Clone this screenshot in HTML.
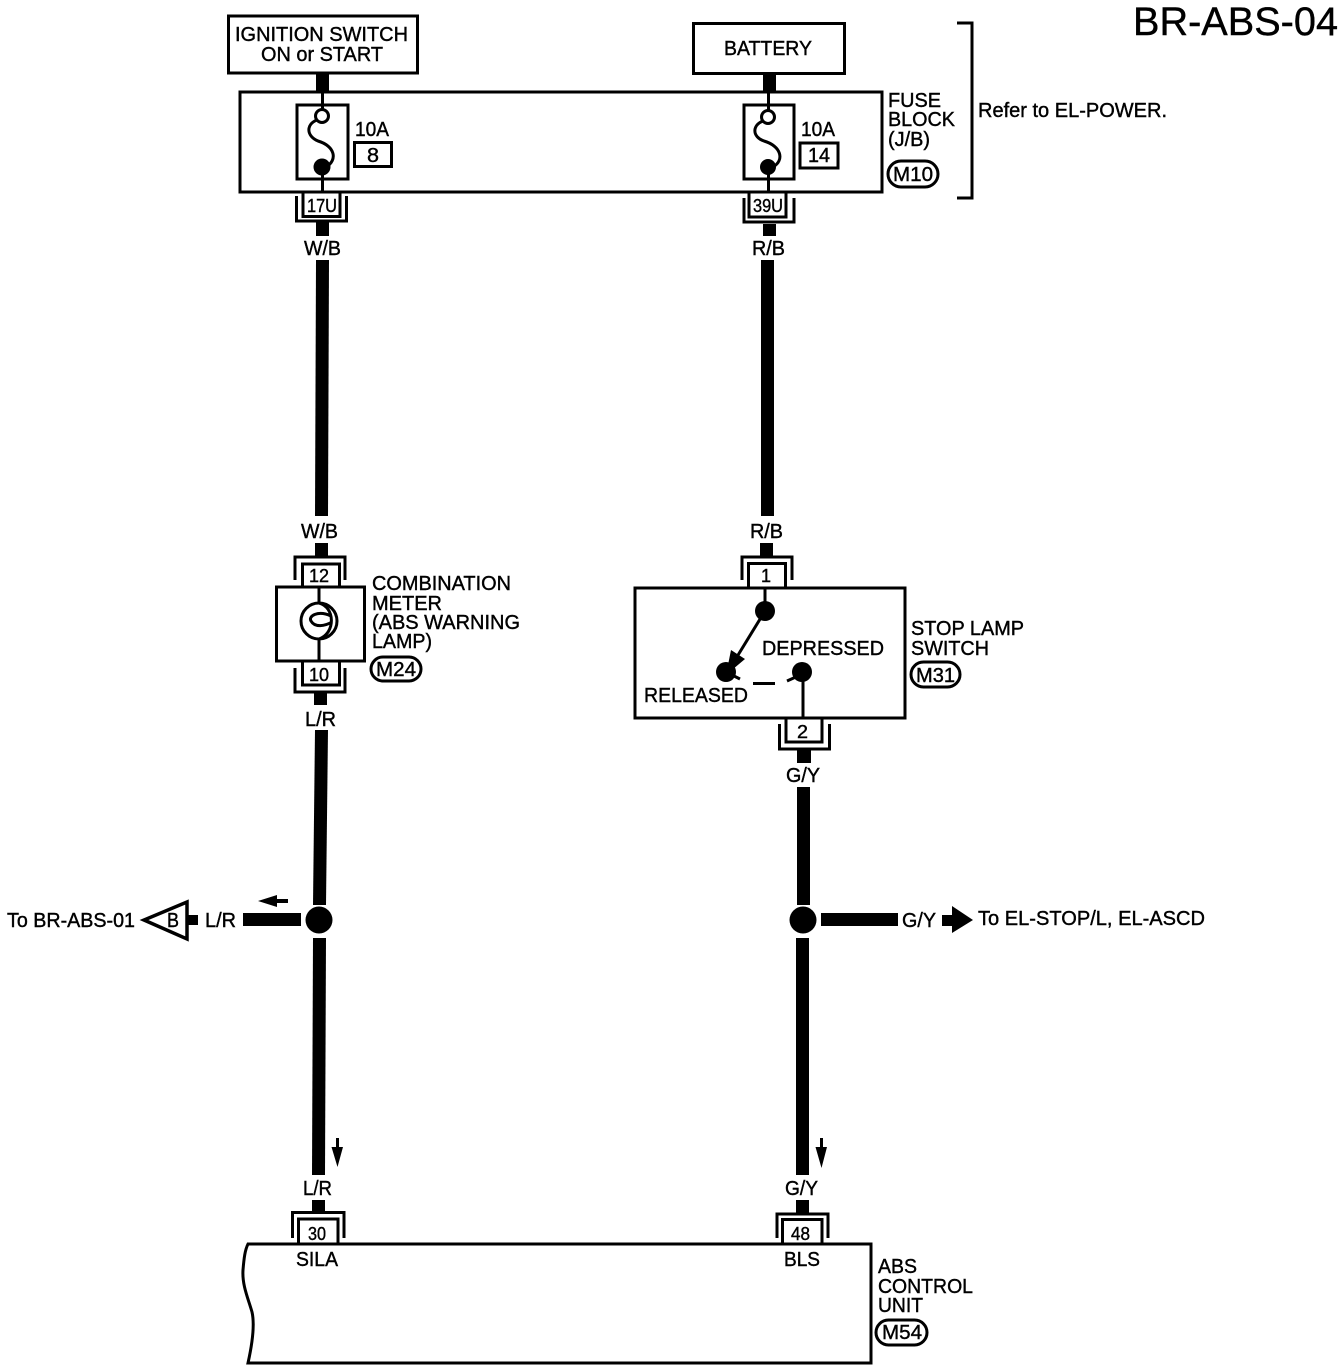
<!DOCTYPE html>
<html lang="en"><head><meta charset="utf-8"><title>BR-ABS-04</title>
<style>
html,body{margin:0;padding:0;background:#fff;width:1344px;height:1372px;overflow:hidden}
svg{display:block}
text{font-family:"Liberation Sans",Arial,sans-serif;font-size:20px;fill:#000;stroke:#000;stroke-width:.4}
.s{font-size:18px}
.n{fill:none;stroke:#000;stroke-width:3;stroke-linejoin:miter}
.t{fill:none;stroke:#000;stroke-width:3}
</style></head><body>
<svg width="1344" height="1372" viewBox="0 0 1344 1372" xmlns="http://www.w3.org/2000/svg">
<rect width="1344" height="1372" fill="#fff"/>

<text x="1133" y="35" style="font-size:39.5px;stroke-width:.4" textLength="205" lengthAdjust="spacingAndGlyphs">BR-ABS-04</text>

<!-- Top boxes -->
<rect class="n" x="228.500" y="16" width="189" height="57"/>
<text x="235" y="41" textLength="173" lengthAdjust="spacingAndGlyphs">IGNITION SWITCH</text>
<text x="261" y="61" textLength="122" lengthAdjust="spacingAndGlyphs">ON or START</text>
<rect class="n" x="693.500" y="23.500" width="151" height="50"/>
<text x="724" y="55" textLength="88" lengthAdjust="spacingAndGlyphs">BATTERY</text>

<!-- stubs -->
<rect x="316" y="73" width="13" height="18"/>
<rect x="763" y="73" width="13" height="18"/>

<!-- Fuse block -->
<rect class="n" x="240" y="92" width="642" height="100"/>
<rect class="n" x="297" y="105" width="51" height="74"/>
<rect class="n" x="744" y="105" width="50" height="74"/>

<!-- Fuse 1 -->
<path class="n" d="M322.500 91V110M322.500 172V192"/>
<circle cx="322" cy="116" r="6.500" fill="#fff" stroke="#000" stroke-width="3"/>
<path class="t" d="M317 120C306 124 306 136 318 141C335 146 338 160 326 167"/>
<circle cx="322" cy="167" r="8.500"/>
<!-- Fuse 2 -->
<path class="n" d="M768.500 91V110M768.500 172V192"/>
<circle cx="768" cy="117" r="6.500" fill="#fff" stroke="#000" stroke-width="3"/>
<path class="t" d="M763 121C752 125 752 137 764 141C781 146 785 160 773 167"/>
<circle cx="768" cy="167" r="8"/>

<text x="355" y="136" textLength="34" lengthAdjust="spacingAndGlyphs">10A</text>
<rect class="n" x="354.500" y="142.500" width="37" height="24"/>
<text x="367" y="162" textLength="12" lengthAdjust="spacingAndGlyphs">8</text>
<text x="801" y="136" textLength="34" lengthAdjust="spacingAndGlyphs">10A</text>
<rect class="t" x="800" y="143" width="38" height="25"/>
<text x="808" y="162" textLength="22" lengthAdjust="spacingAndGlyphs">14</text>

<text x="888" y="107" textLength="53" lengthAdjust="spacingAndGlyphs">FUSE</text>
<text x="888" y="126" textLength="67" lengthAdjust="spacingAndGlyphs">BLOCK</text>
<text x="888" y="146" textLength="42" lengthAdjust="spacingAndGlyphs">(J/B)</text>
<rect class="n" x="888" y="161" width="50" height="26" rx="13"/>
<text x="893" y="181" textLength="40" lengthAdjust="spacingAndGlyphs">M10</text>
<path class="n" d="M957 23H972V198H957"/>
<text x="978" y="117" textLength="189" lengthAdjust="spacingAndGlyphs">Refer to EL-POWER.</text>

<!-- 17U / 39U connectors -->
<path class="n" d="M296.500 196V221H346.500V196"/>
<path class="n" d="M303 192V216.500H340V192"/>
<text class="s" x="307" y="212" textLength="30" lengthAdjust="spacingAndGlyphs">17U</text>
<path class="n" d="M744 198V222H794V198"/>
<path class="n" d="M749 192V217H786V192"/>
<text class="s" x="753" y="212" textLength="30" lengthAdjust="spacingAndGlyphs">39U</text>

<!-- Left main wire -->
<rect x="316" y="222" width="13" height="14"/>
<text x="304" y="255" textLength="37" lengthAdjust="spacingAndGlyphs">W/B</text>
<path d="M316 260H329L328 516H315Z"/>
<text x="301" y="538" textLength="37" lengthAdjust="spacingAndGlyphs">W/B</text>
<rect x="315" y="543" width="13" height="13"/>

<!-- Right main wire -->
<rect x="763" y="224" width="13" height="12"/>
<text x="752" y="255" textLength="33" lengthAdjust="spacingAndGlyphs">R/B</text>
<rect x="761" y="260" width="13" height="256"/>
<text x="750" y="538" textLength="33" lengthAdjust="spacingAndGlyphs">R/B</text>
<rect x="760" y="543" width="13" height="13"/>

<!-- Combination meter -->
<path class="n" d="M295 580V557H345V580"/>
<path class="n" d="M302.500 587V564H339.500V587"/>
<text class="s" x="309" y="582" textLength="20" lengthAdjust="spacingAndGlyphs">12</text>
<rect class="n" x="276.500" y="587" width="88" height="74"/>
<path class="n" d="M319 587V603M319 639V661"/>
<circle cx="319" cy="621" r="18" class="n"/>
<path class="t" d="M319 603C335 607 336 633 319 639M331 616C318 610 308 616 311 621C315 628 325 626 332 622"/>
<path class="n" d="M295 668V692H345V668"/>
<path class="n" d="M302.500 661V685H339.500V661"/>
<text class="s" x="309" y="681" textLength="20" lengthAdjust="spacingAndGlyphs">10</text>
<text x="372" y="590" textLength="139" lengthAdjust="spacingAndGlyphs">COMBINATION</text>
<text x="372" y="610" textLength="70" lengthAdjust="spacingAndGlyphs">METER</text>
<text x="372" y="629" textLength="148" lengthAdjust="spacingAndGlyphs">(ABS WARNING</text>
<text x="372" y="648" textLength="60" lengthAdjust="spacingAndGlyphs">LAMP)</text>
<rect class="n" x="371" y="657" width="50" height="24" rx="12"/>
<text x="376" y="676" textLength="40" lengthAdjust="spacingAndGlyphs">M24</text>

<rect x="314" y="692" width="13" height="13"/>
<text x="305" y="726" textLength="31" lengthAdjust="spacingAndGlyphs">L/R</text>
<path d="M315 730H328L326 905H313Z"/>

<!-- Stop lamp switch -->
<path class="n" d="M742 580V557H792V580"/>
<path class="n" d="M748.500 587V563.500H785.500V587"/>
<text class="s" x="761" y="582" textLength="10" lengthAdjust="spacingAndGlyphs">1</text>
<rect class="n" x="635" y="588" width="270" height="130"/>
<path class="n" d="M765 588V611"/>
<circle cx="765" cy="611" r="10"/>
<path class="n" d="M765 611L735 660"/>
<path d="M726 675L731 650L745 659Z"/>
<circle cx="726" cy="672" r="10"/>
<path class="n" d="M734 676L740 679"/>
<rect x="753" y="682" width="22" height="3"/>
<path class="n" d="M787 681L798 676"/>
<circle cx="802" cy="672" r="10"/>
<path class="n" d="M803 672V718"/>
<text x="762" y="655" textLength="122" lengthAdjust="spacingAndGlyphs">DEPRESSED</text>
<text x="644" y="702" textLength="104" lengthAdjust="spacingAndGlyphs">RELEASED</text>
<text x="911" y="635" textLength="113" lengthAdjust="spacingAndGlyphs">STOP LAMP</text>
<text x="911" y="655" textLength="78" lengthAdjust="spacingAndGlyphs">SWITCH</text>
<rect class="n" x="911" y="662" width="49" height="25" rx="12.500"/>
<text x="916" y="682" textLength="39" lengthAdjust="spacingAndGlyphs">M31</text>

<path class="n" d="M779.500 724V749H829.500V724"/>
<path class="n" d="M786 718V742H822V718"/>
<text class="s" x="797" y="738" textLength="11" lengthAdjust="spacingAndGlyphs">2</text>
<rect x="797" y="750" width="14" height="13"/>
<text x="786" y="782" textLength="34" lengthAdjust="spacingAndGlyphs">G/Y</text>
<rect x="797" y="787" width="13" height="118"/>

<!-- Junctions -->
<circle cx="319" cy="920" r="13.500"/>
<circle cx="803" cy="920" r="13.500"/>
<path d="M313 938H326L325 1175H312Z"/>
<rect x="796" y="938" width="13" height="237"/>

<!-- Left branch -->
<rect x="243" y="913" width="58" height="13"/>
<path d="M258 901L277 895V899H288V903H277V907Z"/>
<text x="205" y="927" textLength="31" lengthAdjust="spacingAndGlyphs">L/R</text>
<rect x="187" y="915" width="11" height="10"/>
<path d="M187 902V939L144 920Z" fill="#fff" stroke="#000" stroke-width="3.500"/>
<text x="167" y="927" textLength="12" lengthAdjust="spacingAndGlyphs">B</text>
<text x="7" y="927" textLength="128" lengthAdjust="spacingAndGlyphs">To BR-ABS-01</text>

<!-- Right branch -->
<rect x="821" y="913" width="77" height="13"/>
<text x="902" y="927" textLength="34" lengthAdjust="spacingAndGlyphs">G/Y</text>
<path d="M942 915H952V906L973 920L952 933V926H942Z"/>
<text x="978" y="925" textLength="227" lengthAdjust="spacingAndGlyphs">To EL-STOP/L, EL-ASCD</text>

<!-- Down arrows -->
<path d="M336 1138H339V1147H343L337.500 1167L331.500 1147H336Z"/>
<path d="M820 1138H823V1147H827L821.500 1168L815.500 1147H820Z"/>

<!-- ABS unit -->
<text x="303" y="1195" textLength="29" lengthAdjust="spacingAndGlyphs">L/R</text>
<text x="785" y="1195" textLength="33" lengthAdjust="spacingAndGlyphs">G/Y</text>
<rect x="312" y="1200" width="13" height="12"/>
<rect x="796" y="1200" width="13" height="13"/>
<path class="n" d="M292.500 1238V1212.500H344V1238"/>
<path class="n" d="M298.500 1244V1219H338V1244"/>
<text class="s" x="308" y="1240" textLength="18" lengthAdjust="spacingAndGlyphs">30</text>
<path class="n" d="M777 1238V1214H828V1238"/>
<path class="n" d="M782.500 1244V1219.500H822V1244"/>
<text class="s" x="791" y="1240" textLength="19" lengthAdjust="spacingAndGlyphs">48</text>
<path class="n" d="M248 1244H871V1363H248C252 1345 255 1325 252 1312C248 1298 242 1285 243 1270C244 1258 245 1250 248 1244Z"/>
<text x="296" y="1266" textLength="42" lengthAdjust="spacingAndGlyphs">SILA</text>
<text x="784" y="1266" textLength="36" lengthAdjust="spacingAndGlyphs">BLS</text>
<text x="878" y="1273" textLength="39" lengthAdjust="spacingAndGlyphs">ABS</text>
<text x="878" y="1293" textLength="95" lengthAdjust="spacingAndGlyphs">CONTROL</text>
<text x="878" y="1312" textLength="45" lengthAdjust="spacingAndGlyphs">UNIT</text>
<rect class="n" x="876" y="1320" width="51" height="25" rx="12.500"/>
<text x="882" y="1339" textLength="40" lengthAdjust="spacingAndGlyphs">M54</text>
</svg>
</body></html>
